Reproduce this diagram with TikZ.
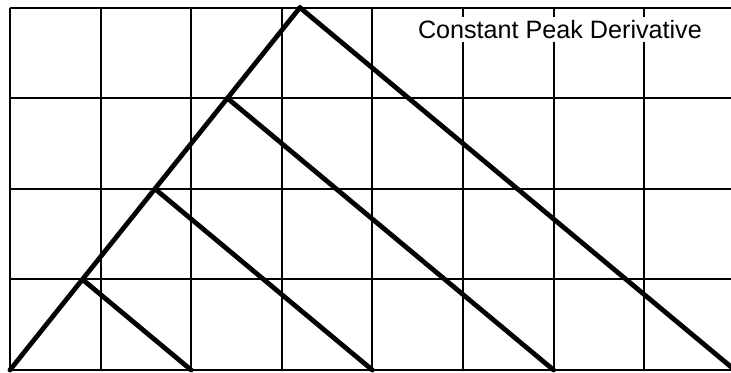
\documentclass[tikz,border=0pt]{standalone}
\usepackage{fontspec}
\setmainfont{Liberation Sans}
\usepackage{tikz}
\usetikzlibrary{positioning}

\begin{document}
\begin{tikzpicture}[
    x=1cm, y=1cm,
    gridline/.style={line width=0.6pt},
    ramp/.style={line width=1.5pt, line cap=round, line join=miter},
    caption/.style={fill=white, inner sep=1pt, font=\fontsize{7.9}{9}\selectfont}
]
\useasboundingbox (-0.11,-0.022) rectangle (7.958,4.084);

% --- Grid ---
\draw[gridline] (0,0) grid (8,4);

% --- Peaks and feet ---
\coordinate (O) at (0,0);
\foreach \h in {1,...,4} {
  \coordinate (P\h) at ({0.8*\h},\h);
  \coordinate (F\h) at ({2*\h},0);
}

% --- Rising edge ---
\draw[ramp] (O) -- (P4);

% --- Falling edges ---
\foreach \h in {1,...,4}
  \draw[ramp] (P\h) -- (F\h);

\node[caption] (title) at (6.07,3.76) {Constant Peak Derivative};

\end{tikzpicture}
\end{document}
